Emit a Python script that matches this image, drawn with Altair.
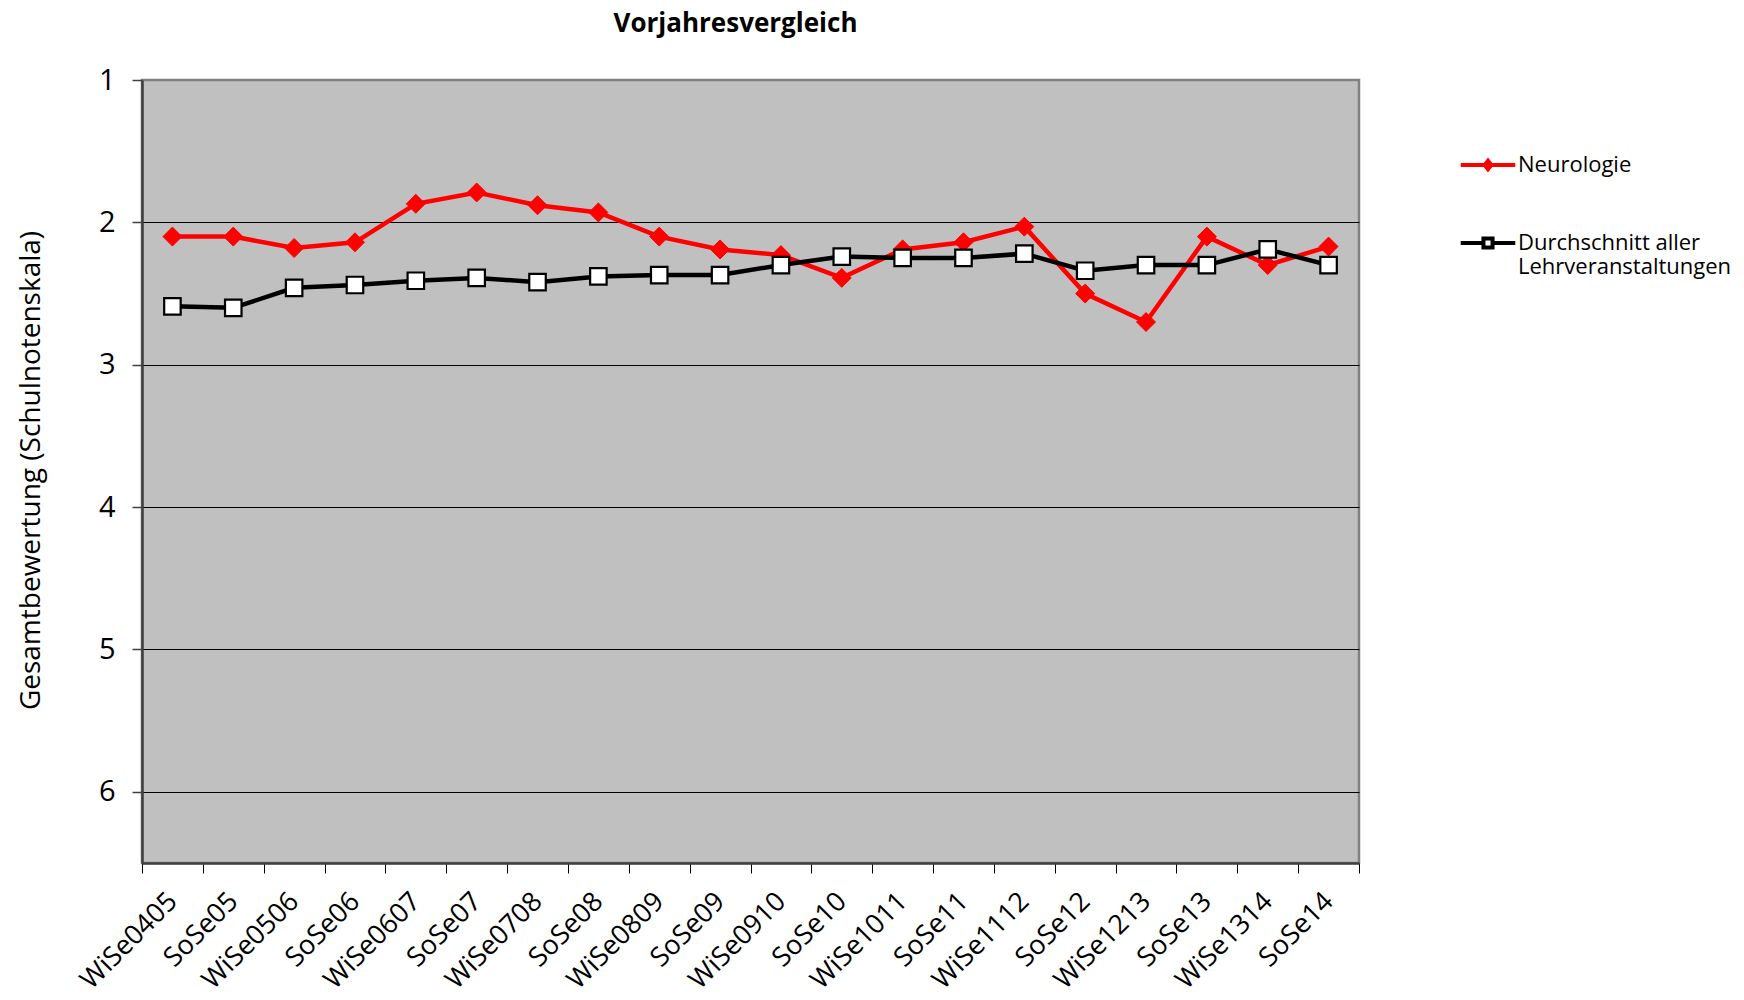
import altair as alt
import pandas as pd

semesters = ["WiSe0405", "SoSe05", "WiSe0506", "SoSe06", "WiSe0607", "SoSe07",
             "WiSe0708", "SoSe08", "WiSe0809", "SoSe09", "WiSe0910", "SoSe10",
             "WiSe1011", "SoSe11", "WiSe1112", "SoSe12", "WiSe1213", "SoSe13",
             "WiSe1314", "SoSe14"]
neurologie = [2.10, 2.10, 2.18, 2.14, 1.87, 1.79, 1.88, 1.93, 2.10, 2.19,
              2.23, 2.39, 2.19, 2.14, 2.03, 2.50, 2.70, 2.10, 2.30, 2.17]
durchschnitt = [2.59, 2.60, 2.46, 2.44, 2.41, 2.39, 2.42, 2.38, 2.37, 2.37,
                2.30, 2.24, 2.25, 2.25, 2.22, 2.34, 2.30, 2.30, 2.19, 2.30]
series_names = ["Neurologie", "Durchschnitt aller Lehrveranstaltungen"]
y_ticks = [1, 2, 3, 4, 5, 6]

FONT = "Open Sans"

rows = []
for s, n, d in zip(semesters, neurologie, durchschnitt):
    rows.append({"semester": s, "series": series_names[0], "value": n})
    rows.append({"semester": s, "series": series_names[1], "value": d})
df = pd.DataFrame(rows)

x_enc = alt.X(
    "semester:N",
    sort=semesters,
    bandPosition=0.5,
    scale=alt.Scale(type="band", domain=semesters, paddingInner=0, paddingOuter=0),
    axis=alt.Axis(
        title=None,
        labelAngle=-45,
        labelAlign="right",
        labelBaseline="middle",
        labelFont=FONT,
        labelFontSize=27,
        labelColor="black",
        labelPadding=24,
        labelOverlap=False,
        tickBand="extent",
        tickSize=10,
        tickColor="black",
        tickWidth=1,
        domainColor="#404040",
        domainWidth=2.5,
        grid=False,
    ),
)

y_enc = alt.Y(
    "value:Q",
    scale=alt.Scale(domain=[1, 6.5], reverse=True, nice=False, zero=False),
    axis=alt.Axis(
        values=y_ticks,
        format="d",
        title="Gesamtbewertung (Schulnotenskala)",
        titleFont=FONT,
        titleFontSize=28,
        titleFontWeight="normal",
        titleColor="black",
        titleAngle=-90,
        titleAlign="center",
        titleBaseline="alphabetic",
        titleX=-103,
        titleY=390,
        labelFont=FONT,
        labelFontSize=29,
        labelColor="black",
        labelPadding=17,
        tickSize=10,
        tickColor="#404040",
        tickWidth=1.5,
        domainColor="#404040",
        domainWidth=2.5,
        grid=True,
        gridColor={"condition": {"test": "datum.value === 1", "value": "#808080"}, "value": "black"},
        gridWidth=1,
    ),
)

base = alt.Chart(df)

red_line = base.transform_filter(alt.datum.series == series_names[0]).mark_line(
    color="#FF0000", strokeWidth=4.5
).encode(x=x_enc, y=y_enc)

red_pts = base.transform_filter(alt.datum.series == series_names[0]).mark_point(
    shape="M0,-1L1,0L0,1L-1,0Z", filled=True, fill="#FF0000",
    stroke="#FF0000", strokeWidth=1, size=360, opacity=1
).encode(x=x_enc, y=y_enc)

black_line = base.transform_filter(alt.datum.series == series_names[1]).mark_line(
    color="black", strokeWidth=4.5
).encode(x=x_enc, y=y_enc)

black_pts = base.transform_filter(alt.datum.series == series_names[1]).mark_point(
    shape="square", filled=True, fill="white", stroke="black",
    strokeWidth=2.2, size=272, opacity=1
).encode(x=x_enc, y=y_enc)

red_sym = "M-4.2,0H-0.5M0.5,0H4.2M0,-0.65L0.5,0L0,0.65L-0.5,0Z"
black_sym = "M-4.2,0H-0.7M0.7,0H4.2M-0.7,-0.7H0.7V0.7H-0.7Z"

legend = alt.Legend(
    title=None,
    orient="none",
    legendX=1335,
    legendY=74,
    padding=0,
    symbolSize=169,
    symbolStrokeWidth=4,
    symbolOpacity=1,
    labelFont=FONT,
    labelFontSize=22,
    labelColor="black",
    labelOffset=19,
    labelLimit=400,
    rowPadding=52,
    labelExpr="datum.label == 'Durchschnitt aller Lehrveranstaltungen' ? ['Durchschnitt aller', 'Lehrveranstaltungen'] : datum.label",
)

legend_layer = base.transform_filter("false").mark_point(filled=True, size=169).encode(
    x=x_enc,
    y=y_enc,
    shape=alt.Shape("series:N", scale=alt.Scale(domain=series_names, range=[red_sym, black_sym]), legend=legend),
    fill=alt.Fill("series:N", scale=alt.Scale(domain=series_names, range=["#FF0000", "white"]), legend=legend),
    stroke=alt.Stroke("series:N", scale=alt.Scale(domain=series_names, range=["#FF0000", "black"]), legend=legend),
)

chart = alt.layer(red_line, red_pts, black_line, black_pts, legend_layer).properties(
    width=1217,
    height=783,
    padding={"left": 134, "top": 72, "right": 377, "bottom": 129},
    autosize=alt.AutoSizeParams(type="none"),
    background="white",
    title=alt.TitleParams(
        "Vorjahresvergleich",
        font=FONT,
        fontSize=26,
        fontWeight="bold",
        color="black",
        anchor="middle",
        dx=-15,
        offset=29,
    ),
).configure_view(
    fill="#C0C0C0", stroke="#808080", strokeWidth=2.5
)

chart.save("out.html", embed_options={"renderer": "svg", "actions": False})
